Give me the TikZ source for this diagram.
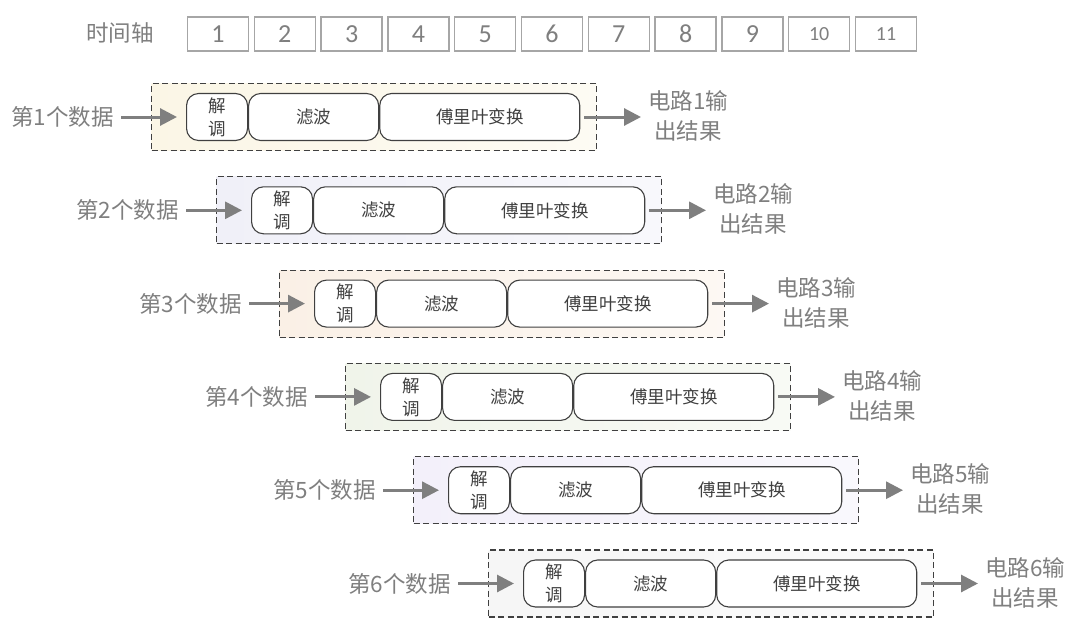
\documentclass[tikz,border=0pt]{standalone}
\usepackage{fontspec}
\setmainfont{Carlito}
\newfontfamily\cjk{Noto Sans CJK SC}
\usetikzlibrary{arrows.meta}
\definecolor{lblgray}{HTML}{7F7F7F}
\definecolor{boxgray}{HTML}{A6A6A6}
\definecolor{darkline}{HTML}{404040}
\definecolor{r1}{HTML}{FBF6E6}
\definecolor{r2}{HTML}{F0F0F8}
\definecolor{r3}{HTML}{FAF0E6}
\definecolor{r4}{HTML}{F0F4EA}
\definecolor{r5}{HTML}{F3F0FA}
\definecolor{r6}{HTML}{F6F6F6}
\tikzset{
  tbox/.style={draw=boxgray, line width=1.3pt, minimum width=61pt, minimum height=34pt, inner sep=0pt, text=lblgray, font=\fontsize{26}{26}\selectfont},
  lbl/.style={text=lblgray, font=\cjk\fontsize{22.5}{30}\selectfont, inner sep=0pt, align=center},
  stage/.style={draw=darkline, fill=white, line width=1.1pt, rounded corners=12pt, minimum height=47pt, inner sep=0pt, text=darkline, font=\cjk\fontsize{17.5}{23}\selectfont, align=center},
  dbox/.style={draw=darkline, line width=1.1pt, dash pattern=on 6pt off 3.5pt, minimum height=67pt, inner sep=0pt},
  arr/.style={draw=lblgray, line width=3pt, -{Triangle[length=17pt,width=17pt]}}
}
\begin{document}
\begin{tikzpicture}[x=1pt,y=-1pt]
\useasboundingbox[fill=white] (0,0) rectangle (1080,629);
\node[lbl] (axis) at (120,33) {时间轴};
\foreach \i in {1,...,11}{
  \pgfmathsetmacro\X{187+(\i-1)*66.8+31}
  \ifnum\i>9
    \node[tbox, font=\fontsize{20}{20}\selectfont] (t\i) at (\X,34) {\i};
  \else
    \node[tbox] (t\i) at (\X,34) {\i};
  \fi
}
\foreach \k/\c/\L in {1/r1/186,2/r2/251,3/r3/314,4/r4/380,5/r5/448,6/r6/523}{
  \pgfmathsetmacro\Y{117+(\k-1)*93.3}
  \pgfmathsetmacro\R{\L+397}
  \node[dbox, anchor=west, minimum width=445pt, left color=\c, right color=\c!45!white] (f\k) at (\L-35,\Y) {};
  \node[stage, anchor=west, minimum width=61pt] (a\k) at (\L,\Y) {解\\调};
  \node[stage, anchor=west, minimum width=130pt] (b\k) at (a\k.east) {滤波};
  \node[stage, anchor=west, minimum width=200pt] (c\k) at (b\k.east) {傅里叶变换};
  \node[lbl, anchor=east] (in\k) at (\L-72,\Y) {第\k 个数据};
  \node[lbl, anchor=west] (out\k) at (\R+65,\Y-1) {电路\k 输\\出结果};
  \draw[arr, shorten <=7pt, shorten >=9pt] (in\k.east) -- (a\k.west);
  \draw[arr, shorten <=4pt, shorten >=7pt] (c\k.east) -- (out\k.west |- c\k.east);
}
\end{tikzpicture}
\end{document}
